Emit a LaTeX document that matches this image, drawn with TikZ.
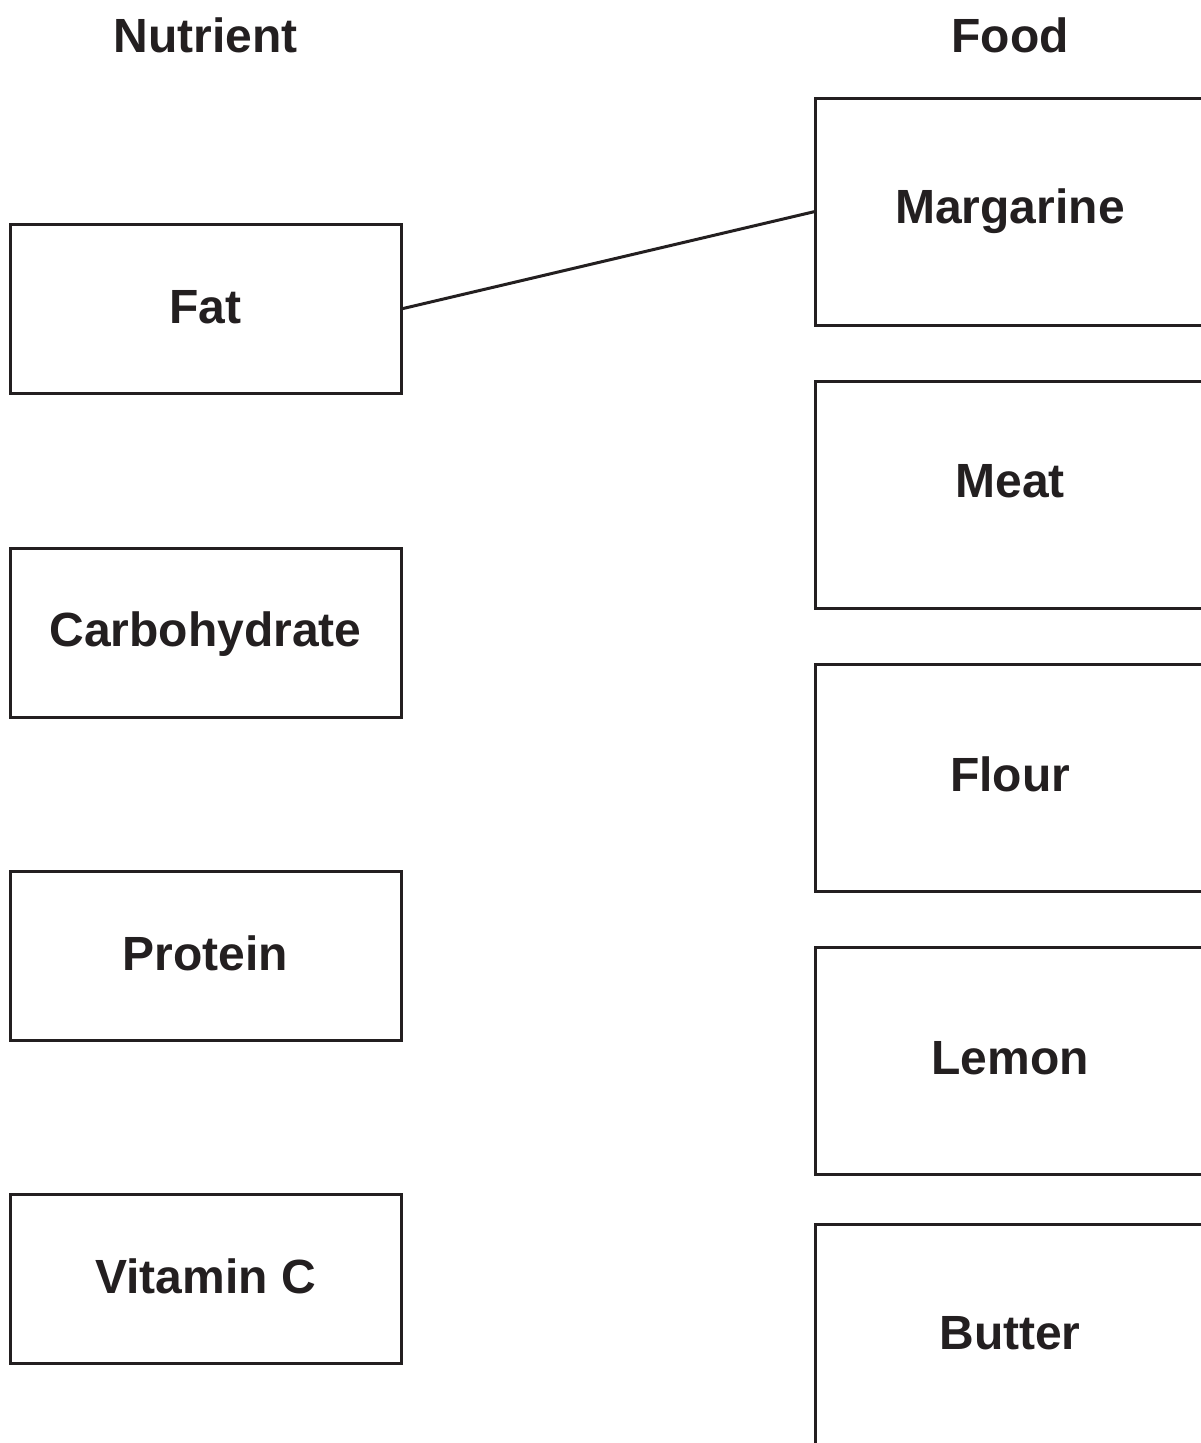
\documentclass[tikz,border=0pt]{standalone}
\usepackage{fontspec}
\setmainfont{Liberation Sans}
\definecolor{ink}{HTML}{231F20}
\begin{document}
\begin{tikzpicture}[x=1pt,y=-1pt,
  box/.style={draw=ink,line width=3pt,fill=none,inner sep=0pt,outer sep=0pt},
  nbox/.style={box,minimum width=391pt,minimum height=169pt},
  fbox/.style={box,minimum width=390pt,minimum height=227pt},
  lab/.style={text=ink,font=\fontsize{48}{56}\selectfont\bfseries,inner sep=0pt,anchor=base},
  link/.style={draw=ink,line width=3pt}]
\clip (0,0) rectangle (1201,1443);
\fill[white] (0,0) rectangle (1201,1443);
\node[lab] (hnut) at (205.5,52) {Nutrient};
\node[lab] (hfood) at (1010,52) {Food};
% nutrients
\node[nbox] (fat) at (205.5,309) {};
\node[lab] (tfat) at (205.5,323) {Fat};
\node[nbox] (carb) at (205.5,632.5) {};
\node[lab] (tcarb) at (205.5,646) {Carbohydrate};
\node[nbox] (prot) at (205.5,955.5) {};
\node[lab] (tprot) at (205.5,970) {Protein};
\node[nbox] (vitc) at (205.5,1278.5) {};
\node[lab] (tvitc) at (205.5,1293) {Vitamin C};
% foods
\node[fbox] (marg) at (1010,211.5) {};
\node[lab] (tmarg) at (1010,223) {Margarine};
\node[fbox] (meat) at (1010,494.5) {};
\node[lab] (tmeat) at (1010,497) {Meat};
\node[fbox] (flour) at (1010,777.5) {};
\node[lab] (tflour) at (1010,791) {Flour};
\node[fbox] (lemon) at (1010,1060.5) {};
\node[lab] (tlemon) at (1010,1074) {Lemon};
\node[fbox] (butter) at (1010,1337.5) {};
\node[lab] (tbutter) at (1010,1349) {Butter};
% connector
\draw[link] (fat.east) -- (marg.west);
\end{tikzpicture}
\end{document}
